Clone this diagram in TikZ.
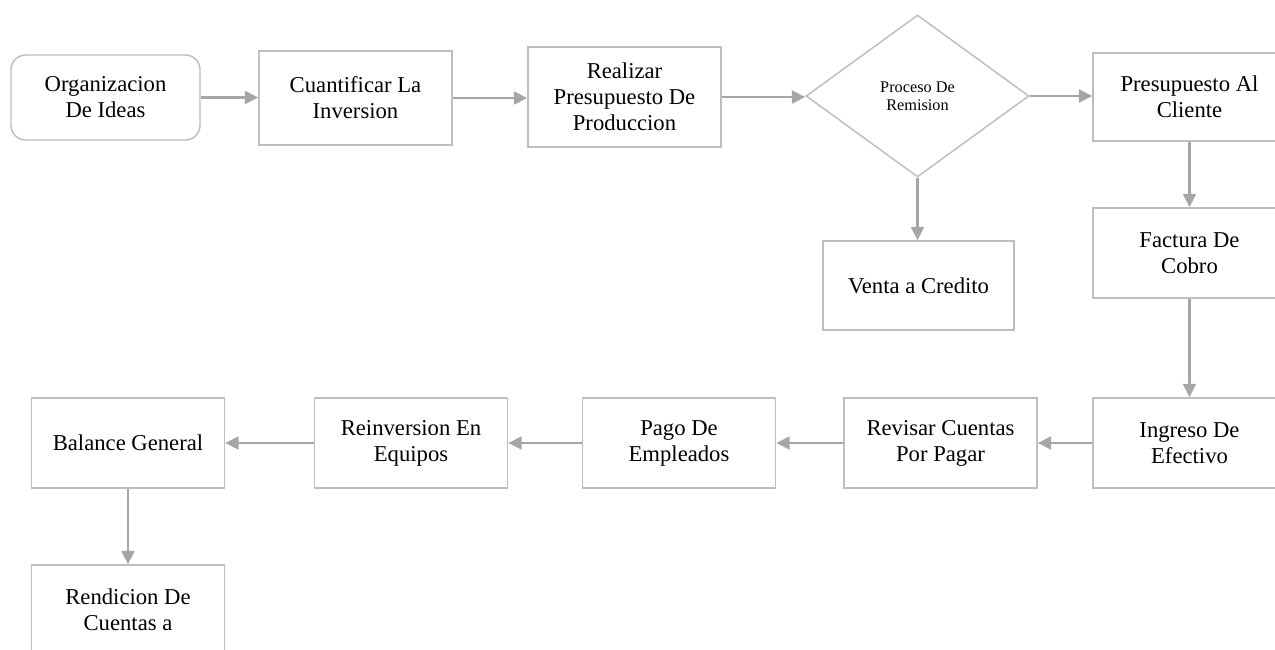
\documentclass[tikz,border=0pt]{standalone}
\usepackage{fontspec}
\setmainfont{Liberation Serif}
\usetikzlibrary{shapes.geometric,arrows.meta}
\definecolor{boxgray}{RGB}{190,190,190}
\definecolor{arrowgray}{RGB}{166,166,166}
\begin{document}
\begin{tikzpicture}[x=0.75pt,y=-0.75pt,
  box/.style={draw=boxgray,line width=1.1pt,fill=white,align=center,
    font=\fontsize{17}{19.5}\selectfont,inner sep=0pt,
    minimum width=144.75pt,minimum height=67.5pt},
  decision/.style={diamond,draw=boxgray,line width=1.1pt,fill=white,align=center,
    font=\fontsize{12.2}{13.8}\selectfont,inner sep=0pt,
    minimum width=167.25pt,minimum height=121.5pt},
  flow/.style={draw=arrowgray,line width=2.1pt,-{Triangle[length=10pt,width=9.5pt]}}]
\useasboundingbox (0,0) rectangle (1275,650);
\clip (0,0) rectangle (1275,650);

% top row
\node[box,rounded corners=11pt,minimum width=141.75pt,minimum height=63.75pt]
  (ideas) at (105.5,97.5) {Organizacion\\De Ideas};
\node[box,minimum height=70.5pt] (cuant) at (355.5,98) {Cuantificar La\\Inversion};
\node[box,minimum height=75pt] (real) at (624.5,97) {Realizar\\Presupuesto De\\Produccion};
\node[decision] (rem) at (917.5,96) {Proceso De\\Remision};
\node[box,minimum height=66pt] (cli) at (1189.5,97) {Presupuesto Al\\Cliente};

% branch and right column
\node[box,minimum width=143.25pt,minimum height=66.75pt] (venta) at (918.5,285.5) {Venta a Credito};
\node[box] (fact) at (1189.5,253) {Factura De\\Cobro};

% middle row
\node[box] (ing) at (1189.5,443) {Ingreso De\\Efectivo};
\node[box] (rev) at (940.5,443) {Revisar Cuentas\\Por Pagar};
\node[box] (pago) at (679,443) {Pago De\\Empleados};
\node[box] (reinv) at (411,443) {Reinversion En\\Equipos};
\node[box] (bal) at (128,443) {Balance General};

% bottom
\node[box] (rend) at (128,610) {Rendicion De\\Cuentas a};

% connectors
\draw[flow] (ideas.east) -- (ideas.east -| cuant.west);
\draw[flow] (cuant.east) -- (cuant.east -| real.west);
\draw[flow] (real.east) -- (real.east -| rem.west);
\draw[flow] (rem.east) -- (rem.east -| cli.west);
\draw[flow] (rem.south) -- (rem.south |- venta.north);
\draw[flow] (cli.south) -- (fact.north);
\draw[flow] (fact.south) -- (ing.north);
\draw[flow] (ing.west) -- (rev.east);
\draw[flow] (rev.west) -- (pago.east);
\draw[flow] (pago.west) -- (reinv.east);
\draw[flow] (reinv.west) -- (bal.east);
\draw[flow] (bal.south) -- (rend.north);
\end{tikzpicture}
\end{document}
